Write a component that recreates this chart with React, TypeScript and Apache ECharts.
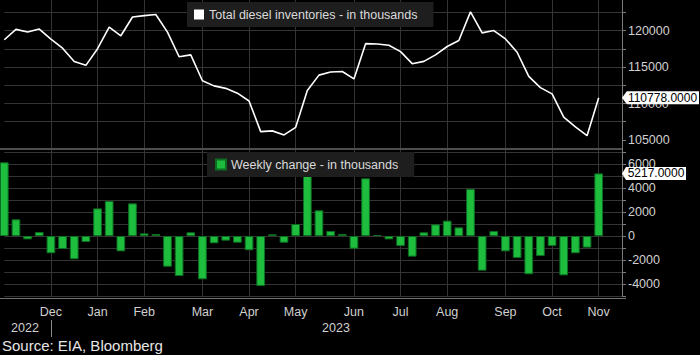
import React, { useEffect, useRef } from "react";
import * as echarts from "echarts";

const weekEnding = [
  "2022-11-11", "2022-11-18", "2022-11-25", "2022-12-02", "2022-12-09", "2022-12-16", "2022-12-23", "2022-12-30",
  "2023-01-06", "2023-01-13", "2023-01-20", "2023-01-27", "2023-02-03", "2023-02-10", "2023-02-17", "2023-02-24",
  "2023-03-03", "2023-03-10", "2023-03-17", "2023-03-24", "2023-03-31", "2023-04-07", "2023-04-14", "2023-04-21",
  "2023-04-28", "2023-05-05", "2023-05-12", "2023-05-19", "2023-05-26", "2023-06-02", "2023-06-09", "2023-06-16",
  "2023-06-23", "2023-06-30", "2023-07-07", "2023-07-14", "2023-07-21", "2023-07-28", "2023-08-04", "2023-08-11",
  "2023-08-18", "2023-08-25", "2023-09-01", "2023-09-08", "2023-09-15", "2023-09-22", "2023-09-29", "2023-10-06",
  "2023-10-13", "2023-10-20", "2023-10-27", "2023-11-03",
];

const inventories = [
  118760, 120180, 119820, 120230, 118850, 117600, 115760, 115240, 117530, 120500,
  119300, 121880, 122070, 122220, 119800, 116420, 116680, 113120, 112420, 112080,
  111420, 110340, 106140, 106240, 105680, 106730, 111780, 113900, 114320, 114400,
  113380, 118220, 118180, 118000, 117130, 115470, 115790, 116680, 117830, 118650,
  122580, 119700, 120020, 118870, 117040, 113720, 112180, 111320, 108140, 106800,
  105580, 110778,
];

const weeklyChange = [
  6140, 1390, -280, 330, -1440, -1080, -1940, -500, 2300, 2920,
  -1280, 2720, 220, 170, -2560, -3330, 310, -3610, -610, -390,
  -560, -1190, -4170, 140, -560, 1000, 5060, 2140, 420, 170,
  -1060, 4810, 80, -280, -830, -1720, 310, 970, 1280, 720,
  3920, -2890, 420, -1280, -1830, -3190, -1670, -830, -3280, -1440,
  -970, 5217,
];

const monthTickIndex = [4, 8, 12, 17, 21, 25, 30, 34, 38, 43, 47, 51];
const monthTickLabel = ["Dec", "Jan", "Feb", "Mar", "Apr", "May", "Jun", "Jul", "Aug", "Sep", "Oct", "Nov"];
const yearLabels = ["2022", "2023"];
const seriesNames = ["Total diesel inventories - in thousands", "Weekly change - in thousands"];
const sourceText = "Source: EIA, Bloomberg";

export default function App() {
  const ref = useRef<HTMLDivElement>(null);

  useEffect(() => {
    const chart = echarts.init(ref.current!, null, { renderer: "svg" });
    const font = "'Liberation Sans', Arial, sans-serif";
    const gridColor = "#343434";
    const axisColor = "#7c7c7c";
    const labelColor = "#d0d0d0";
    const cats = [...weekEnding, "", ""];
    const lastIdx = cats.length - 1;
    const isTick = (i: number) => monthTickIndex.indexOf(i) >= 0;

    const tagWidth = (s: string) => {
      let w = 0;
      for (const c of s) w += c === "." ? 3.34 : 6.67;
      return Math.round(w + 7);
    };
    const makeTag = (v: number) => {
      const text = v.toFixed(4);
      const w = tagWidth(text);
      return {
        silent: true,
        symbol: "path://M0,6.5L5,0L80,0L80,13L5,13Z",
        symbolKeepAspect: false,
        symbolSize: [w, 13],
        symbolOffset: [w / 2, 0],
        itemStyle: { color: "#ffffff" },
        label: {
          show: true,
          position: "inside",
          offset: [2, 0],
          color: "#000",
          fontSize: 12,
          fontFamily: font,
          formatter: () => text,
        },
        data: [{ coord: [lastIdx, v], value: v }],
      };
    };

    const invTickValues: number[] = [];
    for (let v = 105000; v <= 125000; v += 2500) invTickValues.push(v);

    const lastInv = inventories[inventories.length - 1];
    const lastChg = weeklyChange[weeklyChange.length - 1];

    chart.setOption({
      animation: false,
      backgroundColor: "#000000",
      textStyle: { fontFamily: font },
      grid: [
        { left: 4.3, right: 78, top: -5.7, height: 163.8, containLabel: false, outerBoundsMode: "none" },
        { left: 4.3, right: 78, top: 152, height: 144, containLabel: false, outerBoundsMode: "none" },
      ],
      legend: [
        {
          data: [{ name: seriesNames[0], itemStyle: { color: "#ffffff" } }],
          left: 187,
          top: 2,
          icon: "rect",
          itemWidth: 10,
          itemHeight: 10,
          padding: [6, 16, 6, 7],
          backgroundColor: "#1e1e1e",
          selectedMode: false,
          textStyle: { color: "#dadada", fontSize: 12.5, fontFamily: font },
        },
        {
          data: [{ name: seriesNames[1], itemStyle: { color: "#1ebd3d" } }],
          left: 207,
          top: 152,
          icon: "rect",
          itemWidth: 10,
          itemHeight: 10,
          padding: [6, 16, 6, 8],
          backgroundColor: "#1e1e1e",
          selectedMode: false,
          textStyle: { color: "#dadada", fontSize: 12.5, fontFamily: font },
        },
      ],
      xAxis: [
        {
          gridIndex: 0,
          type: "category",
          data: cats,
          boundaryGap: false,
          axisLine: { show: false },
          axisTick: { show: false },
          axisLabel: { show: false },
          splitLine: { show: true, interval: (i: number) => isTick(i), lineStyle: { color: gridColor, width: 1 } },
        },
        {
          gridIndex: 1,
          type: "category",
          data: cats,
          boundaryGap: false,
          axisLine: { show: false },
          axisTick: { show: false },
          axisLabel: {
            show: true,
            interval: (i: number) => isTick(i),
            formatter: (_v: string, i: number) => {
              const k = monthTickIndex.indexOf(i);
              return k >= 0 ? monthTickLabel[k] : "";
            },
            color: labelColor,
            fontSize: 12.5,
            fontFamily: font,
            margin: 9,
          },
          splitLine: { show: true, interval: (i: number) => isTick(i), lineStyle: { color: gridColor, width: 1 } },
        },
      ],
      yAxis: [
        {
          gridIndex: 0,
          type: "value",
          position: "right",
          min: 102500,
          max: 125000,
          interval: 2500,
          axisLine: { show: true, lineStyle: { color: axisColor } },
          axisTick: { show: true, inside: false, length: 4, lineStyle: { color: axisColor }, customValues: invTickValues },
          axisLabel: {
            formatter: (v: number) => (v % 5000 === 0 && v < 125000 && v > 102500 ? String(v) : ""),
            color: labelColor,
            fontSize: 12.5,
            fontFamily: font,
            margin: 6,
          },
          splitLine: { show: true, showMinLine: false, lineStyle: { color: gridColor, width: 1 } },
        },
        {
          gridIndex: 1,
          type: "value",
          position: "right",
          min: -5000,
          max: 7000,
          interval: 1000,
          axisLine: { show: true, lineStyle: { color: axisColor } },
          axisTick: { show: true, inside: false, length: 4, lineStyle: { color: axisColor } },
          axisLabel: {
            formatter: (v: number) => (v % 2000 === 0 && v > -5000 && v < 7000 ? String(v) : ""),
            color: labelColor,
            fontSize: 12.5,
            fontFamily: font,
            margin: 6,
          },
          splitLine: { show: true, lineStyle: { color: gridColor, width: 1 } },
        },
      ],
      series: [
        {
          name: seriesNames[0],
          type: "line",
          xAxisIndex: 0,
          yAxisIndex: 0,
          data: inventories,
          symbol: "none",
          color: "#ffffff",
          lineStyle: { color: "#ffffff", width: 1.6 },
          markPoint: makeTag(lastInv),
          z: 3,
        },
        {
          name: seriesNames[1],
          type: "bar",
          xAxisIndex: 1,
          yAxisIndex: 1,
          data: weeklyChange,
          barWidth: 8.7,
          color: "#1ebd3d",
          itemStyle: { color: "#1ebd3d", borderColor: "#0d6e22", borderWidth: 1 },
          markPoint: makeTag(lastChg),
          z: 2,
        },
      ],
      graphic: [
        { type: "line", shape: { x1: 0, y1: 149, x2: 622, y2: 149 }, style: { stroke: "#4e4e4e", lineWidth: 2 }, silent: true, z: 10 },
        { type: "line", shape: { x1: 0, y1: 298.5, x2: 626, y2: 298.5 }, style: { stroke: "#727272", lineWidth: 1 }, silent: true, z: 10 },
        { type: "line", shape: { x1: 51.5, y1: 320, x2: 51.5, y2: 337 }, style: { stroke: "#8a8a8a", lineWidth: 1 }, silent: true },
        {
          type: "text",
          x: 25,
          y: 328,
          style: { text: yearLabels[0], fill: labelColor, fontSize: 12.5, fontFamily: font, align: "center", verticalAlign: "middle" },
          silent: true,
        },
        {
          type: "text",
          x: 336,
          y: 328,
          style: { text: yearLabels[1], fill: labelColor, fontSize: 12.5, fontFamily: font, align: "center", verticalAlign: "middle" },
          silent: true,
        },
        {
          type: "text",
          x: 2,
          y: 345,
          style: { text: sourceText, fill: "#e6e6e6", fontSize: 15, fontFamily: font, align: "left", verticalAlign: "middle" },
          silent: true,
        },
      ],
    });

    return () => chart.dispose();
  }, []);

  return (
    <div
      ref={ref}
      style={{ position: "fixed", left: 0, top: 0, width: 700, height: 355, background: "#000" }}
    />
  );
}
